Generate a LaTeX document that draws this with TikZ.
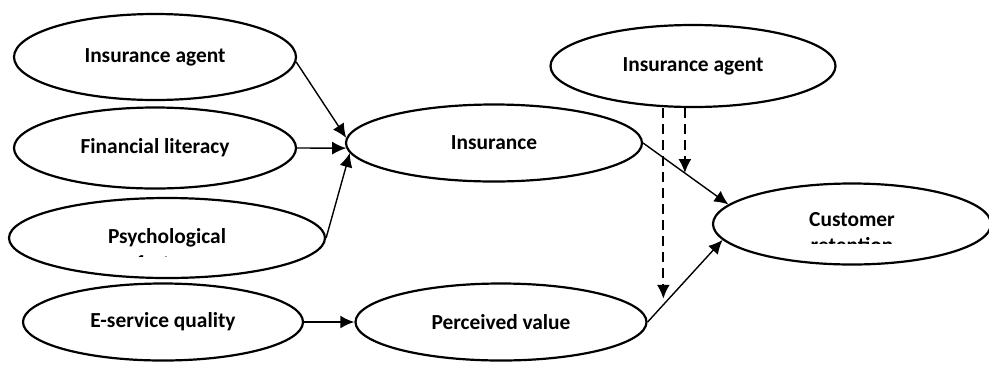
\documentclass[tikz,border=0pt]{standalone}
\usepackage{fontspec}
\setmainfont{Carlito}
\usetikzlibrary{shapes, arrows.meta}

\begin{document}
\begin{tikzpicture}[x=0.5pt, y=-0.5pt, >={Latex[length=7pt,width=6.5pt]}]

	\tikzstyle{cloud} = [draw, line width=1.1pt, ellipse, fill=white, inner sep=0pt, font=\fontsize{10.7pt}{13.4pt}\selectfont\bfseries]
	\tikzstyle{hidden} = [inner sep=0pt, font=\fontsize{10.7pt}{13.4pt}\selectfont\bfseries]
	\tikzstyle{line} = [draw, ->, line width=0.7pt]
	\tikzstyle{moderate} = [draw, ->, line width=1pt, dash pattern=on 5pt off 3pt]

	\useasboundingbox (0,0) rectangle (989,365);

	\node[cloud, minimum width=141pt, minimum height=43pt] (insurance agent) at (155,57) {Insurance agent};
	\node[cloud, minimum width=141pt, minimum height=40.5pt] (financial literacy) at (155,148) {Financial literacy};
	\node[cloud, minimum width=158pt, minimum height=40pt] (psychological factors) at (167,238) {Psychological};
	\node[cloud, minimum width=140pt, minimum height=38.5pt] (eservice quality) at (163,322) {E-service quality};
	\node[cloud, minimum width=148pt, minimum height=38.5pt] (insurance) at (494,143) {Insurance};
	\node[cloud, minimum width=145.5pt, minimum height=38.5pt] (perceived value) at (501,322) {Perceived value};
	\node[cloud, minimum width=142.5pt, minimum height=41pt] (insurance agent 2) at (693,66) {Insurance agent};
	\node[cloud, minimum width=139pt, minimum height=40.5pt, text depth=5pt] (customer retention) at (852,224) {Customer};

	% second lines cut off by the ellipse
	\begin{scope}
		\clip (0,200) rectangle (340,256);
		\node[hidden, anchor=base] (factors line) at ([yshift=-13.4pt]psychological factors.base) {factors};
	\end{scope}
	\begin{scope}
		\clip (700,200) rectangle (989,243);
		\node[hidden, anchor=base] (retention line) at ([yshift=-13.4pt]customer retention.base) {retention};
	\end{scope}

	\path (insurance agent.358) edge [line] (insurance.178);
	\path (financial literacy.east) edge [line] (insurance.182);
	\path (psychological factors.east) edge [line] (insurance.184);
	\path (eservice quality) edge [line, line width=1.1pt] (perceived value);
	\path (insurance.east) edge [line] node[coordinate, pos=0.49] (effect a) {} (customer retention.171);
	\path (perceived value.east) edge [line] node[coordinate, pos=0.21] (effect b) {} (customer retention.187);

	\path [moderate] (insurance agent 2.south -| effect a) -- (effect a);
	\path [moderate, shorten >=3pt] (insurance agent 2.south -| effect b) -- (effect b);

\end{tikzpicture}
\end{document}
